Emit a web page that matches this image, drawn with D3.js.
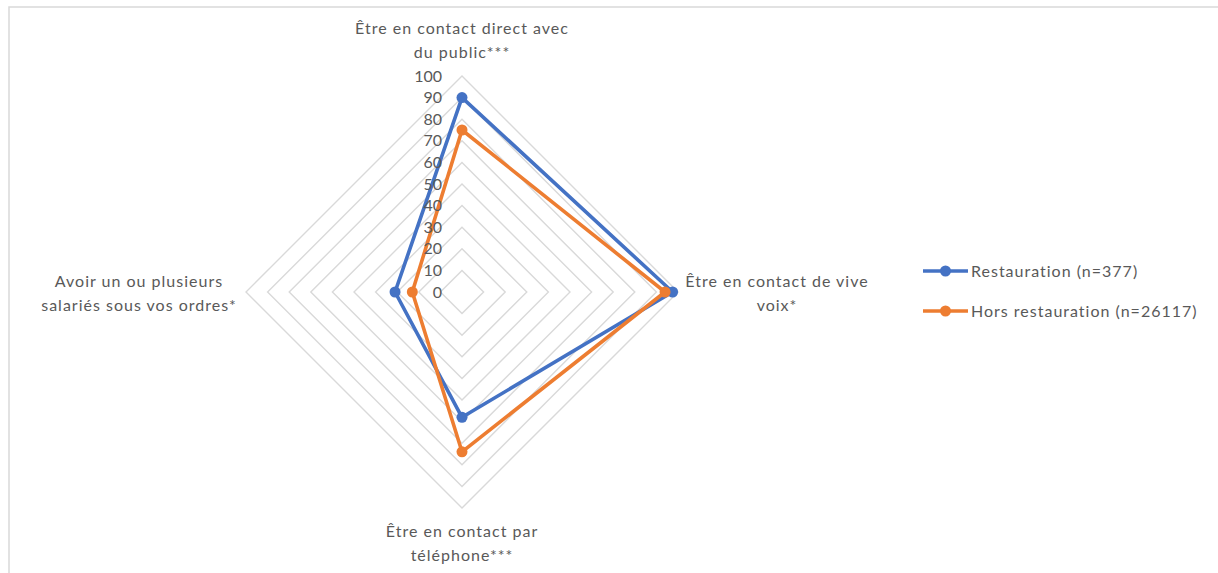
<!DOCTYPE html>
<html>
<head>
<meta charset="utf-8">
<script src="https://cdn.jsdelivr.net/npm/d3@7"></script>
<style>
  body { margin: 0; background: #fff; }
  text { font-family: Lato, "Open Sans", sans-serif; fill: #595959; }
</style>
</head>
<body>
<div id="chart"></div>
<script>
const categories = [
  ['Être en contact direct avec', 'du public***'],
  ['Être en contact de vive', 'voix*'],
  ['Être en contact par', 'téléphone***'],
  ['Avoir un ou plusieurs', 'salariés sous vos ordres*']
];
const seriesNames = ['Restauration (n=377)', 'Hors restauration (n=26117)'];
const restauration = [90, 97.5, 58, 31];
const horsRestauration = [75, 94, 74, 23];
const tickValues = [0, 10, 20, 30, 40, 50, 60, 70, 80, 90, 100];
const colors = ['#4472C4', '#ED7D31'];

const width = 1218, height = 573;
const cx = 462, cy = 292, radius = 216;

const svg = d3.select('#chart').append('svg')
  .attr('width', width).attr('height', height);

// chart border
svg.append('path')
  .attr('d', `M9,${height} L9,7 L${width},7`)
  .attr('fill', 'none').attr('stroke', '#d9d9d9').attr('stroke-width', 1.5);

const r = d3.scaleLinear().domain([0, 100]).range([0, radius]);
const angle = d3.scalePoint().domain(d3.range(categories.length)).range([0, 2 * Math.PI * 3 / 4]);
const px = (i, v) => cx + r(v) * Math.sin(angle(i));
const py = (i, v) => cy - r(v) * Math.cos(angle(i));

const g = svg.append('g');

// grid rings
tickValues.filter(t => t > 0).forEach(t => {
  const pts = categories.map((_, i) => [px(i, t), py(i, t)]);
  g.append('path')
    .attr('d', d3.line().curve(d3.curveLinearClosed)(pts))
    .attr('fill', 'none').attr('stroke', '#d9d9d9').attr('stroke-width', 1.4);
});

// series
const series = [restauration, horsRestauration];
series.forEach((vals, s) => {
  const pts = vals.map((v, i) => [px(i, v), py(i, v)]);
  g.append('path')
    .attr('d', d3.line().curve(d3.curveLinearClosed)(pts))
    .attr('fill', 'none').attr('stroke', colors[s]).attr('stroke-width', 3.6)
    .attr('stroke-linejoin', 'round');
  g.selectAll(null).data(pts).enter().append('circle')
    .attr('cx', d => d[0]).attr('cy', d => d[1]).attr('r', 5.5)
    .attr('fill', colors[s]);
});

// tick labels
g.selectAll('.tick').data(tickValues).enter().append('text')
  .attr('x', cx - 20).attr('y', d => cy - r(d))
  .attr('dy', '0.35em').attr('text-anchor', 'end')
  .style('font-size', '16px')
  .text(d => d);

// category labels
const labelPos = [
  { x: cx, y: 28 },
  { x: 777, y: 281 },
  { x: cx, y: 531 },
  { x: 139, y: 281 }
];
categories.forEach((lines, i) => {
  const t = svg.append('text')
    .attr('x', labelPos[i].x).attr('y', labelPos[i].y)
    .attr('text-anchor', 'middle')
    .style('font-size', '16px').style('letter-spacing', '1px');
  lines.forEach((ln, j) => {
    t.append('tspan').attr('x', labelPos[i].x)
      .attr('y', labelPos[i].y + j * 24).attr('dy', '0.35em').text(ln);
  });
});

// legend
const legend = svg.append('g');
seriesNames.forEach((name, s) => {
  const y = 271 + s * 40;
  legend.append('line').attr('x1', 923).attr('x2', 968).attr('y1', y).attr('y2', y)
    .attr('stroke', colors[s]).attr('stroke-width', 3.6);
  legend.append('circle').attr('cx', 945.5).attr('cy', y).attr('r', 5.5).attr('fill', colors[s]);
  legend.append('text').attr('x', 971).attr('y', y).attr('dy', '0.35em')
    .style('font-size', '16px').style('letter-spacing', '1px').text(name);
});
</script>
</body>
</html>
